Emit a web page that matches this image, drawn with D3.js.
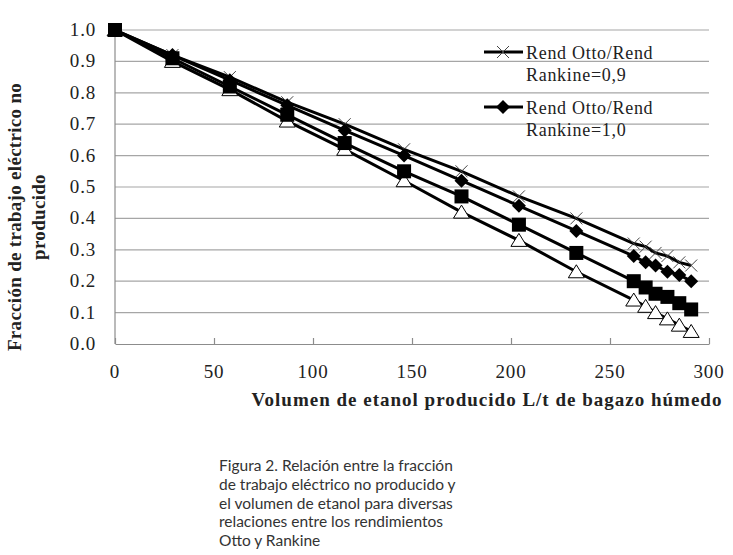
<!DOCTYPE html>
<html>
<head>
<meta charset="utf-8">
<script src="https://cdn.jsdelivr.net/npm/d3@7"></script>
<style>
  body { margin: 0; background: #fff; }
  .tick-label { font-family: "Liberation Serif", "Times New Roman", serif; font-size: 19px; letter-spacing: 0.8px; fill: #222; }
  .axis-title { font-family: "Liberation Serif", "Times New Roman", serif; font-size: 19px; font-weight: bold; fill: #222; }
  .legend-text { font-family: "Liberation Serif", "Times New Roman", serif; font-size: 18px; letter-spacing: 0.7px; fill: #222; }
  .caption { font-family: Lato, "Open Sans", sans-serif; font-size: 15.5px; fill: #333; }
</style>
</head>
<body>
<svg id="chart" width="733" height="555"></svg>
<script>
// volumen de etanol (L/t bagazo húmedo)
const volumen = [0, 29, 58, 87, 116, 146, 175, 204, 233, 262, 268, 273, 279, 285, 291];

// fraccion de trabajo electrico no producido
const serieCruz = [1.00, 0.92, 0.85, 0.77, 0.70, 0.62, 0.55, 0.47, 0.40, 0.32, 0.31, 0.29, 0.28, 0.26, 0.25];
const serieRombo = [1.00, 0.92, 0.84, 0.76, 0.68, 0.60, 0.52, 0.44, 0.36, 0.28, 0.26, 0.25, 0.23, 0.22, 0.20];
const serieCuadrado = [1.00, 0.91, 0.82, 0.73, 0.64, 0.55, 0.47, 0.38, 0.29, 0.20, 0.18, 0.16, 0.15, 0.13, 0.11];
const serieTriangulo = [1.00, 0.90, 0.81, 0.71, 0.62, 0.52, 0.42, 0.33, 0.23, 0.14, 0.12, 0.10, 0.08, 0.06, 0.04];

const xTicks = [0, 50, 100, 150, 200, 250, 300];
const yTicks = [0, 0.1, 0.2, 0.3, 0.4, 0.5, 0.6, 0.7, 0.8, 0.9, 1.0];

const legendLabels = [
    ['Rend Otto/Rend', 'Rankine=0,9'],
    ['Rend Otto/Rend', 'Rankine=1,0']
];

const captionLines = [
    'Figura 2. Relación entre la fracción',
    'de trabajo eléctrico no producido y',
    'el volumen de etanol para diversas',
    'relaciones entre los rendimientos',
    'Otto y Rankine'
];

const svg = d3.select('#chart');

// plot area
const plotLeft = 115, plotRight = 709, plotTop = 30, plotBottom = 344;

const x = d3.scaleLinear().domain([0, 300]).range([plotLeft, plotRight]);
const y = d3.scaleLinear().domain([0, 1]).range([plotBottom, plotTop]);

// gridlines
svg.append('g')
    .selectAll('line')
    .data(yTicks.slice(1))
    .enter()
    .append('line')
    .attr('x1', plotLeft)
    .attr('x2', plotRight)
    .attr('y1', d => y(d))
    .attr('y2', d => y(d))
    .attr('stroke', '#a6a6a6')
    .attr('stroke-width', 1.2);

// axes
const xAxis = d3.axisBottom(x).tickValues(xTicks).tickSizeInner(-6).tickSizeOuter(0).tickFormat('');
const gx = svg.append('g').attr('transform', `translate(0,${plotBottom})`).call(xAxis);
gx.selectAll('path, line').attr('stroke', '#8c8c8c').attr('stroke-width', 1.2);

svg.append('line')
    .attr('x1', plotLeft).attr('x2', plotLeft)
    .attr('y1', plotTop).attr('y2', plotBottom)
    .attr('stroke', '#8c8c8c')
    .attr('stroke-width', 1.2);

// tick labels
svg.selectAll('.xlab')
    .data(xTicks)
    .enter()
    .append('text')
    .attr('class', 'tick-label')
    .attr('x', d => x(d))
    .attr('y', 378)
    .attr('text-anchor', 'middle')
    .text(d => d);

svg.selectAll('.ylab')
    .data(yTicks)
    .enter()
    .append('text')
    .attr('class', 'tick-label')
    .attr('x', 96)
    .attr('y', d => y(d) + 6)
    .attr('text-anchor', 'end')
    .text(d => d3.format('.1f')(d));

// axis titles
svg.append('text')
    .attr('class', 'axis-title')
    .attr('x', 487)
    .attr('y', 406)
    .attr('text-anchor', 'middle')
    .style('letter-spacing', '1px')
    .text('Volumen de etanol producido L/t de bagazo húmedo');

const yTitle = svg.append('text')
    .attr('class', 'axis-title')
    .attr('transform', 'translate(21,217) rotate(-90)')
    .attr('text-anchor', 'middle')
    .style('letter-spacing', '0.3px');
yTitle.append('tspan').attr('x', 0).attr('dy', 0).text('Fracción de trabajo eléctrico no');
yTitle.append('tspan').attr('x', 0).attr('dy', 24).text('producido');

// marker shapes
function drawCross(g, cx, cy) {
    g.append('path')
        .attr('d', `M${cx - 6},${cy - 6}L${cx + 6},${cy + 6}M${cx - 6},${cy + 6}L${cx + 6},${cy - 6}`)
        .attr('stroke', '#444')
        .attr('stroke-width', 1);
}
function drawDiamond(g, cx, cy) {
    g.append('path')
        .attr('d', `M${cx},${cy - 7}L${cx + 7},${cy}L${cx},${cy + 7}L${cx - 7},${cy}Z`)
        .attr('fill', '#000');
}
function drawSquare(g, cx, cy) {
    g.append('rect')
        .attr('x', cx - 7).attr('y', cy - 7)
        .attr('width', 14).attr('height', 14)
        .attr('fill', '#000');
}
function drawTriangle(g, cx, cy) {
    g.append('path')
        .attr('d', `M${cx},${cy - 7}L${cx + 8},${cy + 6}L${cx - 8},${cy + 6}Z`)
        .attr('fill', '#fff')
        .attr('stroke', '#000')
        .attr('stroke-width', 1);
}

const line = d3.line()
    .x((d, i) => x(volumen[i]))
    .y(d => y(d));

const series = [
    { values: serieTriangulo, marker: drawTriangle },
    { values: serieCruz, marker: drawCross },
    { values: serieRombo, marker: drawDiamond },
    { values: serieCuadrado, marker: drawSquare }
];

series.forEach(s => {
    const g = svg.append('g');
    g.append('path')
        .datum(s.values)
        .attr('d', line)
        .attr('fill', 'none')
        .attr('stroke', '#000')
        .attr('stroke-width', 3);
    s.values.forEach((v, i) => s.marker(g, x(volumen[i]), y(v)));
});

// legend
const legendMarkers = [drawCross, drawDiamond];
legendLabels.forEach((lab, i) => {
    const ly = 52 + i * 55;
    const g = svg.append('g');
    g.append('line')
        .attr('x1', 484).attr('x2', 523)
        .attr('y1', ly).attr('y2', ly)
        .attr('stroke', '#000')
        .attr('stroke-width', 3);
    legendMarkers[i](g, 503, ly);
    const t = g.append('text').attr('class', 'legend-text');
    t.append('tspan').attr('x', 526).attr('y', ly + 7).text(lab[0]);
    t.append('tspan').attr('x', 526).attr('y', ly + 29).text(lab[1]);
});

// caption
svg.append('text')
    .attr('class', 'caption')
    .selectAll('tspan')
    .data(captionLines)
    .enter()
    .append('tspan')
    .attr('x', 219)
    .attr('y', (d, i) => 471 + i * 18.8)
    .text(d => d);
</script>
</body>
</html>
